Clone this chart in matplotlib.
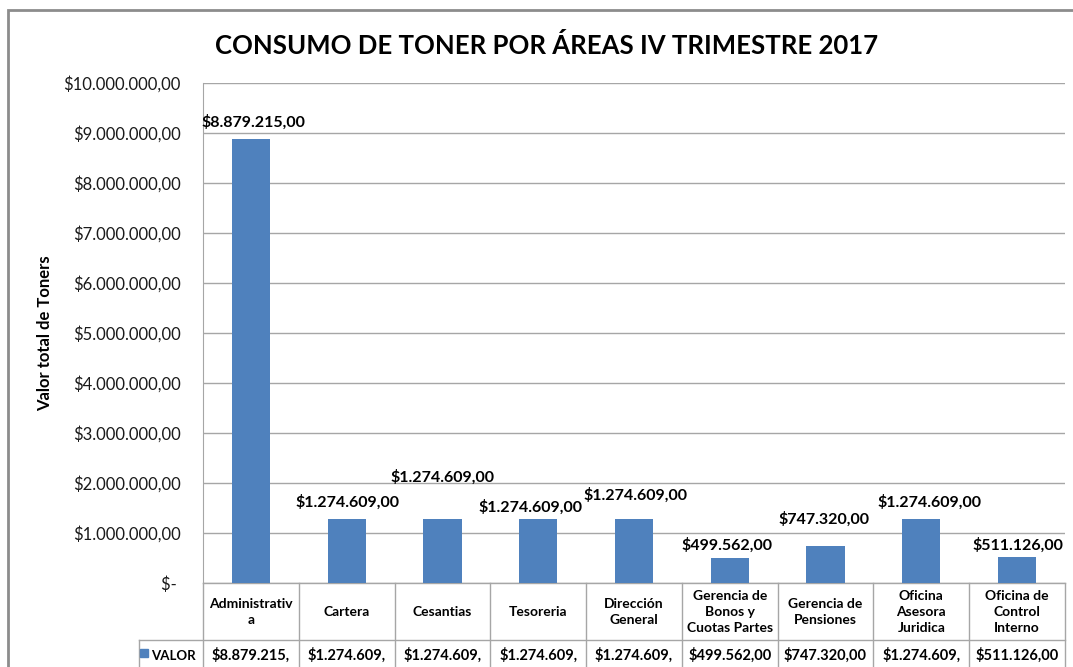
import matplotlib.pyplot as plt
import matplotlib.transforms as mtransforms
from matplotlib.patches import Rectangle

# datos del grafico
areas = ["Administrativa", "Cartera", "Cesantias", "Tesoreria", "Dirección General",
         "Gerencia de Bonos y Cuotas Partes", "Gerencia de Pensiones",
         "Oficina Asesora Juridica", "Oficina de Control Interno"]
rotulos = ["Administrativ\na", "Cartera", "Cesantias", "Tesoreria", "Dirección\nGeneral",
           "Gerencia de\nBonos y\nCuotas Partes", "Gerencia de\nPensiones",
           "Oficina\nAsesora\nJuridica", "Oficina de\nControl\nInterno"]
valores = [8879215, 1274609, 1274609, 1274609, 1274609, 499562, 747320, 1274609, 511126]
serie = "VALOR"
marcas_y = [0, 1000000, 2000000, 3000000, 4000000, 5000000,
            6000000, 7000000, 8000000, 9000000, 10000000]

# desplazamiento de las etiquetas (pixeles), como quedaron en Excel
desp_x = [3, 1, 0, -8, 1, -3, -2, 8, 1]
desp_y = [17, 17, 42, 12, 24, 13, 26, 17, 12]

AZUL = "#4F81BD"
GRIS = "#A6A6A6"
plt.rcParams['font.family'] = ['Lato', 'DejaVu Sans']


def pesos(v):
    if v == 0:
        return "$- "
    s = f"{v:,.2f}".replace(",", "X").replace(".", ",").replace("X", ".")
    return "$" + s


fig = plt.figure(figsize=(10.73, 6.67), dpi=100)
W, H = 1073, 667
ax = fig.add_axes([203 / W, 1 - 583 / H, 862 / W, 500 / H])

x = list(range(len(areas)))
ax.bar(x, valores, width=0.40, color=AZUL, zorder=3)
ax.set_xlim(-0.5, len(areas) - 0.5)
ax.set_ylim(0, 10000000)
ax.set_yticks(marcas_y)
ax.set_yticklabels([pesos(v) for v in marcas_y], fontsize=12, color="#1a1a1a")
ax.set_xticks([])
ax.tick_params(axis='y', length=0, pad=16)
ax.grid(axis='y', color=GRIS, lw=1, zorder=0)
for s in ['top', 'right', 'bottom']:
    ax.spines[s].set_visible(False)
ax.spines['left'].set_color(GRIS)

ax.set_ylabel("Valor total de Toners", fontsize=12, fontweight='bold')
ax.yaxis.set_label_coords((53 - 203) / 862, 0.5)

for i, v in enumerate(valores):
    ax.annotate(pesos(v), (x[i], v), xytext=(desp_x[i], desp_y[i]),
                textcoords='offset pixels', ha='center', va='center',
                fontsize=11.5, fontweight='bold')

fig.text(547 / W, 1 - 45 / H, "CONSUMO DE TONER POR ÁREAS IV TRIMESTRE 2017",
         ha='center', va='center', fontsize=18.5, fontweight='bold')

# tabla de datos debajo del eje (x en datos, y en fraccion del eje)
tr = mtransforms.blended_transform_factory(ax.transData, ax.transAxes)
y_cab = -57 / 500
y_fin = -88 / 500
x_ley = -0.5 - 64 / (862 / len(areas))
lin = dict(color=GRIS, lw=1, transform=tr, clip_on=False)
ax.plot([-0.5, len(areas) - 0.5], [0, 0], **lin)
ax.plot([x_ley, len(areas) - 0.5], [y_cab, y_cab], **lin)
ax.plot([x_ley, len(areas) - 0.5], [y_fin, y_fin], **lin)
ax.plot([x_ley, x_ley], [y_cab, y_fin], **lin)
for i in range(len(areas) + 1):
    ax.plot([i - 0.5, i - 0.5], [0, y_fin], **lin)
for i, r in enumerate(rotulos):
    ax.text(i, y_cab / 2, r, transform=tr, ha='center', va='center',
            fontsize=10, fontweight='bold', linespacing=1.4, clip_on=False)
    ax.text(i, (y_cab + y_fin) / 2, pesos(valores[i])[:11], transform=tr,
            ha='center', va='center', fontsize=10.5, fontweight='bold', clip_on=False)
ax.text(-0.5 - 0.08, (y_cab + y_fin) / 2, serie, transform=tr, ha='right', va='center',
        fontsize=9.5, fontweight='bold', clip_on=False)

# clave de la leyenda
fig.add_artist(Rectangle((140 / W, 1 - 657 / H), 8 / W, 8 / H,
                         transform=fig.transFigure, color=AZUL))

# marco del grafico
fig.add_artist(Rectangle((8 / W, -0.05), 1.5, 1 - 10 / H + 0.05,
                         transform=fig.transFigure, fill=False,
                         edgecolor="#8C8C8C", lw=2))

fig.savefig("out.png", dpi=100)
